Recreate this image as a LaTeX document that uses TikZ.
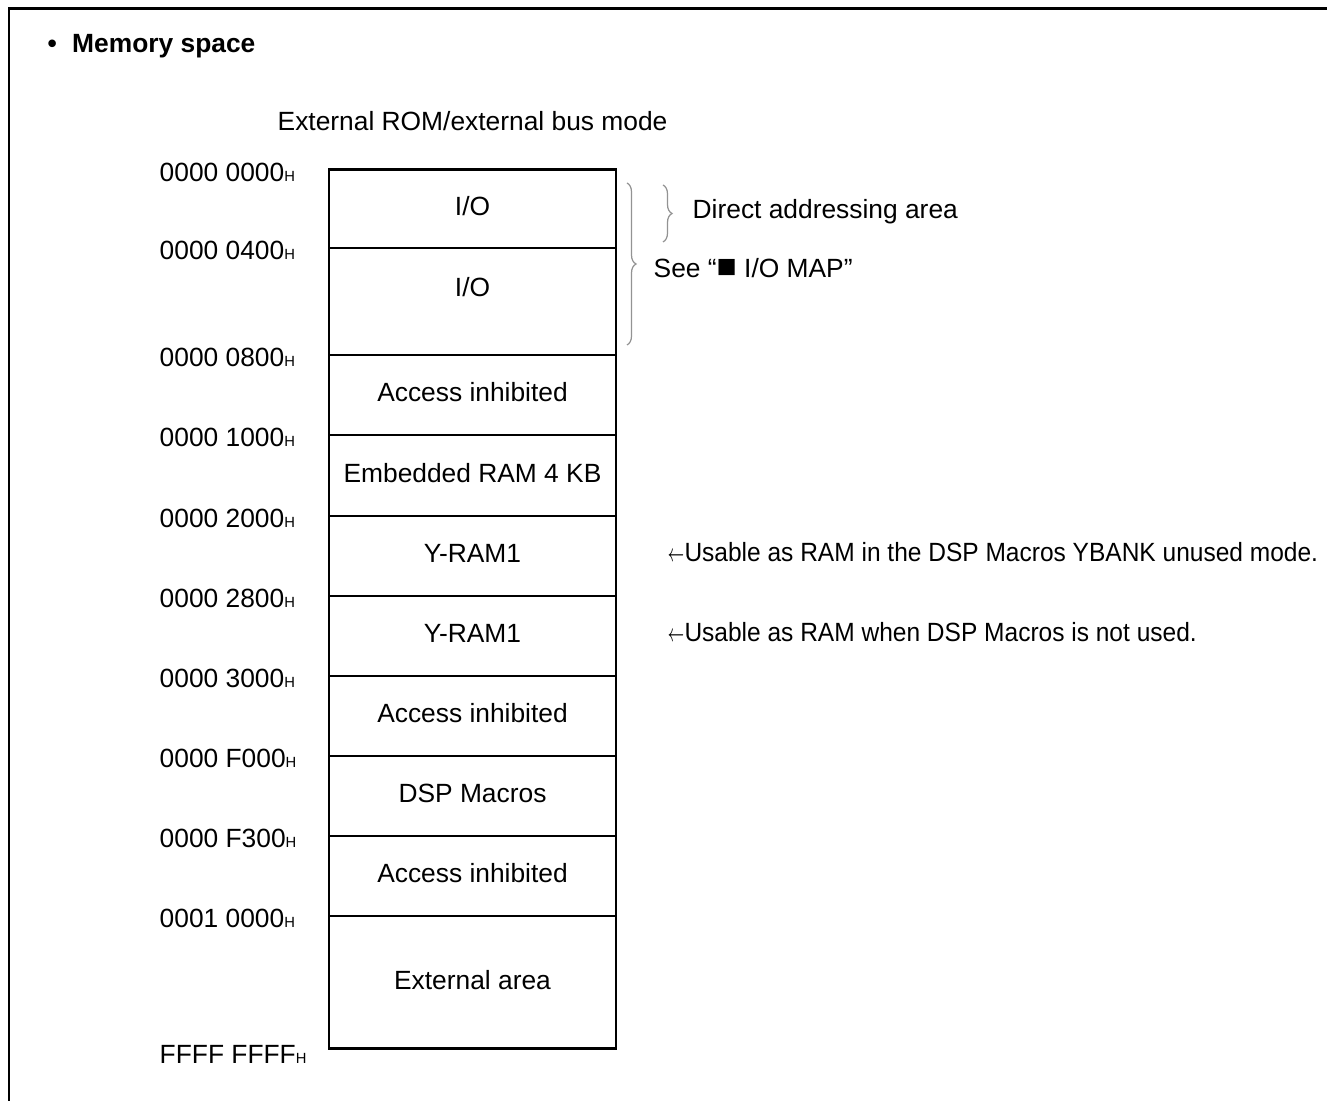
\documentclass[tikz,border=0pt]{standalone}
\usepackage{fontspec}
\setmainfont{Liberation Sans}
\newfontfamily\narrowfont{Liberation Sans}[FakeStretch=0.93]
\usetikzlibrary{positioning,decorations.pathreplacing}
\newcommand{\hsub}{{\fontsize{4.2}{5}\selectfont H}}
\newcommand{\larr}{\scalebox{0.6}[1]{$\leftarrow$}}

\begin{document}
\begin{tikzpicture}[
  every node/.style={font=\fontsize{7.5}{9}\selectfont},
  cell/.style={draw, line width=0.45pt, minimum width=2.87cm, inner sep=0pt, outer sep=0pt, text depth=0.06cm},
  addr/.style={anchor=west, inner sep=0pt, yshift=-0.02cm},
  note/.style={anchor=west, inner sep=0pt},
  brc/.style={draw=gray!85, line width=0.35pt, decorate, decoration={brace, amplitude=0.09cm}},
  frame/.style={line width=0.85pt}
]
\useasboundingbox (0,0) rectangle (13.27,-11.01);

% frame
\draw[frame] (0.09,-11.01) -- (0.09,-0.09) -- (13.27,-0.09);

% headings
\node[note, font=\fontsize{7.5}{9}\selectfont\bfseries] (title) at (0.47,-0.46) {•\hspace{0.08cm} Memory space};
\node[note] (mode) at (2.77,-1.21) {External ROM/external bus mode};

% memory cells
\node[cell, minimum height=0.78cm, anchor=north] (io1) at (4.725,-1.70) {I/O};
\node[cell, minimum height=1.07cm, text depth=0.30cm, below=0pt of io1] (io2) {I/O};
\node[cell, minimum height=0.80cm, below=0pt of io2] (inh1) {Access inhibited};
\node[cell, minimum height=0.81cm, below=0pt of inh1] (ram) {Embedded RAM 4 KB};
\node[cell, minimum height=0.80cm, below=0pt of ram] (yram1) {Y-RAM1};
\node[cell, minimum height=0.80cm, below=0pt of yram1] (yram2) {Y-RAM1};
\node[cell, minimum height=0.80cm, below=0pt of yram2] (inh2) {Access inhibited};
\node[cell, minimum height=0.80cm, below=0pt of inh2] (dsp) {DSP Macros};
\node[cell, minimum height=0.80cm, below=0pt of dsp] (inh3) {Access inhibited};
\node[cell, minimum height=1.33cm, below=0pt of inh3] (ext) {External area};
\draw[frame] (io1.north west) rectangle (ext.south east);

% addresses
\coordinate (lx) at (1.59,0);
\node[addr] (a0000) at (lx |- io1.north) {0000 0000\hsub};
\node[addr] (a0400) at (lx |- io2.north) {0000 0400\hsub};
\node[addr] (a0800) at (lx |- inh1.north) {0000 0800\hsub};
\node[addr] (a1000) at (lx |- ram.north) {0000 1000\hsub};
\node[addr] (a2000) at (lx |- yram1.north) {0000 2000\hsub};
\node[addr] (a2800) at (lx |- yram2.north) {0000 2800\hsub};
\node[addr] (a3000) at (lx |- inh2.north) {0000 3000\hsub};
\node[addr] (af000) at (lx |- dsp.north) {0000 F000\hsub};
\node[addr] (af300) at (lx |- inh3.north) {0000 F300\hsub};
\node[addr] (a10000) at (lx |- ext.north) {0001 0000\hsub};
\node[addr, yshift=-0.03cm] (affff) at (lx |- ext.south) {FFFF FFFF\hsub};

% braces
\coordinate (iotop) at (6.27,-1.83);
\coordinate (iobot) at (6.27,-3.45);
\coordinate (dirtop) at (6.63,-1.85);
\coordinate (dirbot) at (6.63,-2.42);
\draw[brc] (iotop) -- (iobot);
\draw[brc] (dirtop) -- (dirbot);
\node[note] (dir) at (6.92,-2.12) {Direct addressing area};
\node[note] (iomap) at (6.53,-2.68) {See “{\fontsize{9.5}{9}\selectfont ■} I/O MAP”};

% notes
\node[note, font=\fontsize{7.5}{9}\selectfont\narrowfont] (ybank) at (6.67,-5.52) {\larr Usable as RAM in the DSP Macros YBANK unused mode.};
\node[note, font=\fontsize{7.5}{9}\selectfont\narrowfont] (nodsp) at (6.67,-6.32) {\larr Usable as RAM when DSP Macros is not used.};

\end{tikzpicture}
\end{document}
